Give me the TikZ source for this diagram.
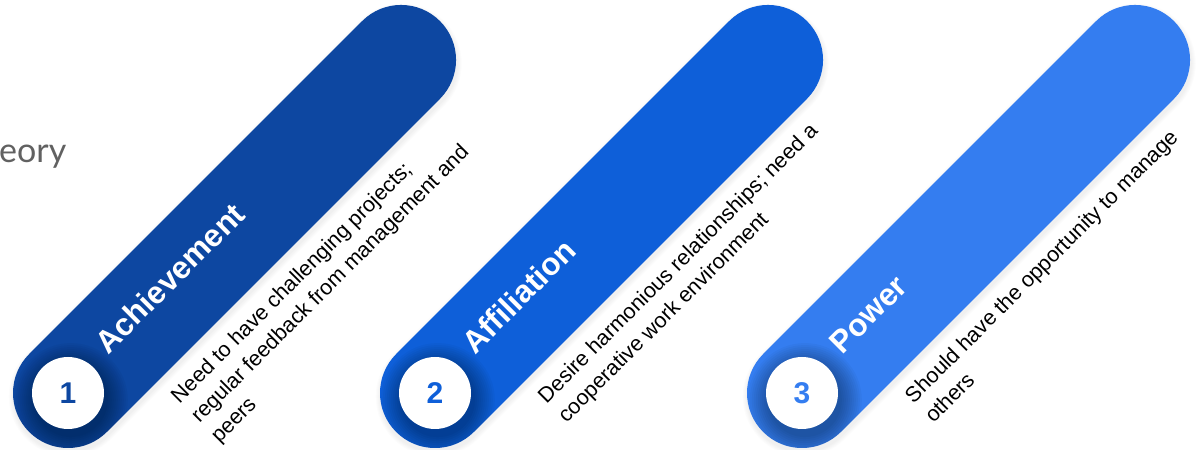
\documentclass[tikz,border=0pt]{standalone}
\usepackage{fontspec}
\setmainfont{Liberation Sans}
\newfontfamily\latofont{Lato}
\usetikzlibrary{calc}

\definecolor{achblue}{HTML}{0D47A1}
\definecolor{affblue}{HTML}{0E5FD9}
\definecolor{powblue}{HTML}{347DF0}
\definecolor{captiongray}{HTML}{616161}

\tikzset{
  barstroke/.style={line width=110pt, line cap=round},
  numdisc/.style={circle, fill=white, minimum size=72pt, inner sep=0pt,
    font=\bfseries\fontsize{30}{30}\selectfont},
  titletext/.style={anchor=base west, inner sep=0pt, text=white,
    font=\bfseries\fontsize{31.5}{31.5}\selectfont},
  desctext/.style={anchor=north west, inner sep=0pt, align=left, text=black,
    font=\fontsize{21.5}{28}\selectfont},
}

% #1 name, #2 x of the numbered disc, #3 colour, #4 number, #5 title, #6 description
\newcommand\motivebar[6]{%
  \begin{scope}[shift={(#2,57)}, rotate=45]
    % faint shadow under the bar
    \foreach \k in {1,...,5}{%
      \pgfmathsetmacro\lw{110+2*\k}%
      \draw[line width=\lw pt, line cap=round, black, opacity=0.012]
        (-2,-3) -- (469,-3);}
    \draw[barstroke, #3] (0,0) -- (471,0);
    % soft shadow of the disc, kept inside the bar
    \begin{scope}
      \clip (0,-55) -- (471,-55) arc[start angle=-90, end angle=90, radius=55]
        -- (0,55) arc[start angle=90, end angle=270, radius=55] -- cycle;
      \foreach \r in {37,39,...,57}{%
        \fill[black, opacity=0.03] (-3,-7) circle (\r);}
    \end{scope}
    \node[numdisc, text=#3] (#1-num) at (0,0) {#4};
    \node[titletext, transform shape] (#1-title) at (55,-2) {#5};
    \node[desctext, transform shape] (#1-desc) at (71,-71) {#6};
  \end{scope}}

\begin{document}
\begin{tikzpicture}[x=1pt,y=1pt]
  \useasboundingbox (0,0) rectangle (1200,450);
  \fill[white] (0,0) rectangle (1200,450);

  \node[anchor=base west, inner sep=0pt, text=captiongray,
    font=\latofont\fontsize{34}{34}\selectfont] (caption) at (-1,287) {eory};

  \motivebar{ach}{68}{achblue}{1}{Achievement}
    {Need to have challenging projects;\\regular feedback from management and\\peers}
  \motivebar{aff}{435}{affblue}{2}{Affiliation}
    {Desire harmonious relationships; need a\\cooperative work environment}
  \motivebar{pow}{802}{powblue}{3}{Power}
    {Should have the opportunity to manage\\others}
\end{tikzpicture}
\end{document}
